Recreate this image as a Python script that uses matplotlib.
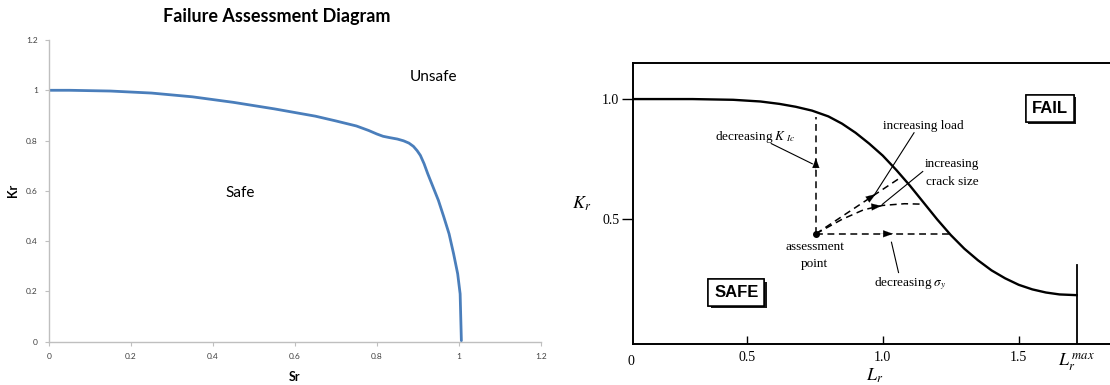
import numpy as np
import matplotlib
matplotlib.use('Agg')
import matplotlib.pyplot as plt
import matplotlib.patheffects as pe

plt.rcParams['mathtext.fontset'] = 'stix'

# --- left panel: Excel style FAD (Sr, Kr) ---
sr = [0.0, 0.05, 0.15, 0.25, 0.35, 0.45, 0.55, 0.65, 0.70, 0.75, 0.78, 0.80,
      0.815, 0.83, 0.85, 0.865, 0.878, 0.889, 0.898, 0.906, 0.915, 0.924, 0.937,
      0.950, 0.963, 0.976, 0.987, 0.997, 1.003, 1.006]
kr = [1.0, 1.0, 0.997, 0.989, 0.974, 0.952, 0.926, 0.897, 0.878, 0.858, 0.840, 0.826,
      0.817, 0.812, 0.806, 0.799, 0.790, 0.777, 0.760, 0.741, 0.708, 0.668, 0.615,
      0.562, 0.497, 0.429, 0.350, 0.270, 0.190, 0.004]
left_ticks = [0, 0.2, 0.4, 0.6, 0.8, 1, 1.2]
left_ticklabels = ['0', '0.2', '0.4', '0.6', '0.8', '1', '1.2']

# --- right panel: textbook FAD (Lr, Kr) ---
lr = [0.083, 0.30, 0.45, 0.55, 0.62, 0.68, 0.74, 0.80, 0.85, 0.90, 0.95, 1.00,
      1.05, 1.10, 1.15, 1.20, 1.25, 1.30, 1.35, 1.40, 1.45, 1.50, 1.55, 1.60,
      1.65, 1.713]
kr_r = [1.0, 1.0, 0.997, 0.99, 0.98, 0.968, 0.952, 0.928, 0.898, 0.86, 0.815, 0.765,
        0.705, 0.64, 0.57, 0.50, 0.435, 0.378, 0.33, 0.288, 0.255, 0.228, 0.209, 0.196,
        0.188, 0.185]
lr_max = 1.713
lr_max_top = 0.311
right_xticks = [0.5, 1.0, 1.5, lr_max]
right_xticklabels = ['0.5', '1.0', '1.5', r'$L_r^{\,max}$']
right_yticks = [0.5, 1.0]
right_yticklabels = ['0.5', '1.0']

pt = (0.754, 0.440)             # assessment point
kic_end = 0.927                 # decreasing K_Ic path (vertical)
sigy_end = 1.244                # decreasing sigma_y path (horizontal)
load_end = (1.071, 0.678)       # increasing load path
crack_x = [0.754, 0.85, 0.93, 1.0, 1.08, 1.155]   # increasing crack size path
crack_y = [0.440, 0.50, 0.540, 0.558, 0.565, 0.563]

fig = plt.figure(figsize=(11.1, 3.85), dpi=100)

# ================= left =================
ax1 = fig.add_axes([0.0441, 0.1125, 0.4432, 0.7836])
ax1.plot(sr, kr, color='#4A7EBB', lw=2.0, solid_capstyle='round', solid_joinstyle='round')
ax1.set_xlim(0, 1.2)
ax1.set_ylim(0, 1.2)
ax1.set_xticks(left_ticks)
ax1.set_xticklabels(left_ticklabels)
ax1.set_yticks(left_ticks)
ax1.set_yticklabels(left_ticklabels)
for s in ['top', 'right']:
    ax1.spines[s].set_visible(False)
for s in ['left', 'bottom']:
    ax1.spines[s].set_color('#BFBFBF')
    ax1.spines[s].set_linewidth(1.0)
ax1.tick_params(colors='#BFBFBF', labelcolor='#404040', labelsize=6, length=3, width=0.8,
                direction='out', pad=5)
for lab in ax1.get_xticklabels() + ax1.get_yticklabels():
    lab.set_family('Lato')
ax1.set_xlabel('Sr', family='Lato', fontweight='bold', fontsize=9, labelpad=8)
ax1.set_ylabel('Kr', family='Lato', fontweight='bold', fontsize=9, labelpad=5)
ax1.text(0.937, 1.054, 'Unsafe', family='Lato', fontsize=11, ha='center', va='center')
ax1.text(0.467, 0.591, 'Safe', family='Lato', fontsize=11, ha='center', va='center')
fig.text(0.249, 0.958, 'Failure Assessment Diagram', family='Lato', fontweight='bold',
         fontsize=13, ha='center', va='center')

# ================= right =================
serif = 'Liberation Serif'
ax2 = fig.add_axes([0.5706, 0.1065, 0.4349, 0.7299])
ax2.set_xlim(0.083, 1.858)
ax2.set_ylim(-0.018, 1.150)
ax2.plot(lr, kr_r, color='k', lw=1.7, solid_joinstyle='round')
ax2.plot([lr_max, lr_max], [-0.018, lr_max_top], color='k', lw=1.3)
for s in ax2.spines.values():
    s.set_linewidth(1.4)
ax2.set_xticks(right_xticks)
ax2.set_xticklabels(right_xticklabels)
ax2.set_yticks(right_yticks)
ax2.set_yticklabels(right_yticklabels)
ax2.tick_params(axis='x', direction='in', length=6, width=1.0, labelsize=10, pad=5)
ax2.tick_params(axis='y', direction='out', length=8, width=1.0, labelsize=10, pad=2)
ax2.xaxis.get_major_ticks()[-1].tick1line.set_visible(False)
for lab in ax2.get_xticklabels() + ax2.get_yticklabels():
    lab.set_family(serif)
ax2.get_xticklabels()[-1].set_fontsize(13)
ax2.text(-0.005, -0.04, '0', transform=ax2.transAxes, family=serif, fontsize=10,
         ha='center', va='top')
ax2.set_xlabel('$L_r$', fontsize=13, labelpad=-4)
ax2.set_ylabel('$K_r$', fontsize=13, rotation=0, labelpad=15, va='center')

dash = dict(color='k', lw=1.1, ls=(0, (4.5, 3)))
ax2.plot([pt[0], pt[0]], [pt[1], kic_end], **dash)
ax2.plot([pt[0], sigy_end], [pt[1], pt[1]], **dash)
ax2.plot([pt[0], load_end[0]], [pt[1], load_end[1]], **dash)
ax2.plot(crack_x, crack_y, **dash)
ax2.plot(*pt, 'o', color='k', ms=4)

def head(tip, tail):
    ax2.annotate('', xy=tip, xytext=tail,
                 arrowprops=dict(arrowstyle='-|>,head_length=0.7,head_width=0.25',
                                 color='k', lw=0.1, shrinkA=0, shrinkB=0))

head((pt[0], 0.755), (pt[0], 0.70))
head((1.038, pt[1]), (0.99, pt[1]))
head((0.974, 0.605), (0.934, 0.575))
head((0.995, 0.556), (0.955, 0.551))

pointer = dict(color='k', lw=0.8)
ax2.plot([0.590, 0.741], [0.815, 0.731], **pointer)
ax2.plot([1.115, 0.968], [0.86, 0.60], **pointer)
ax2.plot([1.147, 0.998], [0.699, 0.562], **pointer)
ax2.plot([1.058, 1.032], [0.279, 0.405], **pointer)

tk = dict(family=serif, fontsize=9.5, ha='center', va='center')
ax2.text(0.532, 0.842, r'decreasing $K_{\ Ic}$', **tk)
ax2.text(1.15, 0.888, 'increasing load', **tk)
ax2.text(1.256, 0.731, 'increasing', **tk)
ax2.text(1.256, 0.657, 'crack size', **tk)
ax2.text(0.75, 0.384, 'assessment', **tk)
ax2.text(0.75, 0.314, 'point', **tk)
ax2.text(1.10, 0.232, r'decreasing $\sigma_y$', **tk)

for label, x, y in [('FAIL', 1.615, 0.962), ('SAFE', 0.462, 0.195)]:
    t = ax2.text(x, y, label, family='Liberation Sans', fontweight='bold', fontsize=12,
                 ha='center', va='center',
                 bbox=dict(boxstyle='square,pad=0.35', fc='white', ec='k', lw=1.1))
    t.get_bbox_patch().set_path_effects([
        pe.withSimplePatchShadow(offset=(1.5, -1.5), shadow_rgbFace='k', alpha=0.9),
        pe.Normal()])

fig.savefig('out.png', dpi=100)
